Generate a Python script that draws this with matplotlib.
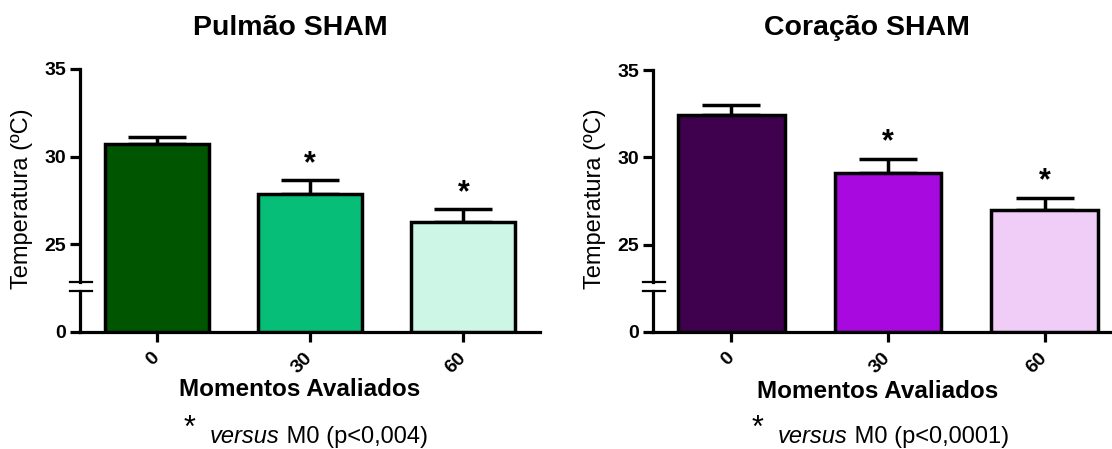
import numpy as np
import matplotlib
matplotlib.use('Agg')
import matplotlib.pyplot as plt
from matplotlib.text import Annotation

plt.rcParams['font.family'] = ['Liberation Sans', 'DejaVu Sans']

momentos = ['0', '30', '60']
pulmao_media = [30.7, 27.85, 26.3]
pulmao_erro = [0.4, 0.8, 0.7]
coracao_media = [32.4, 29.1, 27.0]
coracao_erro = [0.6, 0.8, 0.7]
pulmao_sig = [False, True, True]
coracao_sig = [False, True, True]
cores_pulmao = ['#005500', '#06BE78', '#CDF6E7']
cores_coracao = ['#3F004E', '#A709DF', '#EFCDF6']

# eixo com quebra: 0..22.8 comprimido, acima disso linear
BRK = 22.8
K = 2.8 / 22.8

def fwd(y):
    y = np.asarray(y, dtype=float)
    return np.where(y >= BRK, y, 20 + y * K)

def inv(d):
    d = np.asarray(d, dtype=float)
    return np.where(d >= BRK, d, (d - 20) / K)


def painel(ax, medias, erros, sig, cores):
    x = np.arange(len(momentos))
    ax.set_yscale('function', functions=(fwd, inv))
    ax.bar(x, medias, width=0.68, color=cores, edgecolor='black', linewidth=2.5, zorder=3)
    ax.errorbar(x, medias, yerr=[np.zeros(len(erros)), erros], fmt='none', ecolor='black',
                elinewidth=2.5, capsize=21, capthick=2.5, zorder=2)
    for xi, m, e, s in zip(x, medias, erros, sig):
        if s:
            ax.annotate('*', xy=(xi, m + e), xytext=(0, 1), textcoords='offset points',
                        ha='center', va='bottom', fontsize=22, fontweight='bold')
    ax.set_xlim(-0.5, 2.5)
    ax.set_ylim(0, 35)
    ax.set_yticks([0, 25, 30, 35])
    ax.set_yticklabels(['0', '25', '30', '35'], fontsize=14, fontweight='bold')
    ax.set_xticks(x)
    ax.set_xticklabels(momentos, fontsize=14, fontweight='bold', rotation=45,
                       ha='right', va='center', rotation_mode='anchor')
    ax.yaxis.set_minor_locator(plt.NullLocator())
    ax.tick_params(axis='both', direction='out', length=7, width=2.3, pad=3)
    ax.tick_params(axis='x', pad=10)
    for s in ['top', 'right', 'left']:
        ax.spines[s].set_visible(False)
    ax.spines['bottom'].set_linewidth(2.3)
    # eixo y em dois pedacos + marcas da quebra
    ax.plot([0, 0], [0, 0.155], color='black', lw=2.3, transform=ax.transAxes, clip_on=False)
    ax.plot([0, 0], [0.19, 1], color='black', lw=2.3, transform=ax.transAxes, clip_on=False)
    for yb in [0.155, 0.19]:
        ax.plot([-0.022, 0.026], [yb, yb], color='black', lw=1.6, transform=ax.transAxes, clip_on=False)


fig = plt.figure(figsize=(11.12, 4.49), dpi=100)
ax1 = fig.add_axes([80 / 1112, 117 / 449, 460 / 1112, 263 / 449])
ax2 = fig.add_axes([653 / 1112, 117 / 449, 470 / 1112, 262 / 449])

painel(ax1, pulmao_media, pulmao_erro, pulmao_sig, cores_pulmao)
painel(ax2, coracao_media, coracao_erro, coracao_sig, cores_coracao)

fig.text(290 / 1112, 1 - 28 / 449, 'Pulmão SHAM', ha='center', va='center', fontsize=20.5, fontweight='bold')
fig.text(867 / 1112, 1 - 28 / 449, 'Coração SHAM', ha='center', va='center', fontsize=20.5, fontweight='bold')

fig.text(22 / 1112, 1 - 199 / 449, 'Temperatura (ºC)', rotation=90, ha='center', va='center', fontsize=17)
fig.text(595 / 1112, 1 - 199 / 449, 'Temperatura (ºC)', rotation=90, ha='center', va='center', fontsize=17)

fig.text(300 / 1112, 1 - 390 / 449, 'Momentos Avaliados', ha='center', va='center', fontsize=17.5, fontweight='bold')
fig.text(878 / 1112, 1 - 392 / 449, 'Momentos Avaliados', ha='center', va='center', fontsize=17.5, fontweight='bold')

# notas de rodape
for xs, xv, ptxt in [(190, 210, ' M0 (p<0,004)'), (758, 778, ' M0 (p<0,0001)')]:
    fig.text(xs / 1112, 1 - 429 / 449, '*', ha='center', va='center', fontsize=22)
    tv = fig.text(xv / 1112, 6 / 449, 'versus', ha='left', va='baseline', fontsize=17, style='italic')
    # resto do texto logo depois de "versus"
    fig.add_artist(Annotation(ptxt, xy=(1, 0), xycoords=tv, fontsize=17, ha='left', va='bottom'))

fig.savefig('out.png', dpi=100)
